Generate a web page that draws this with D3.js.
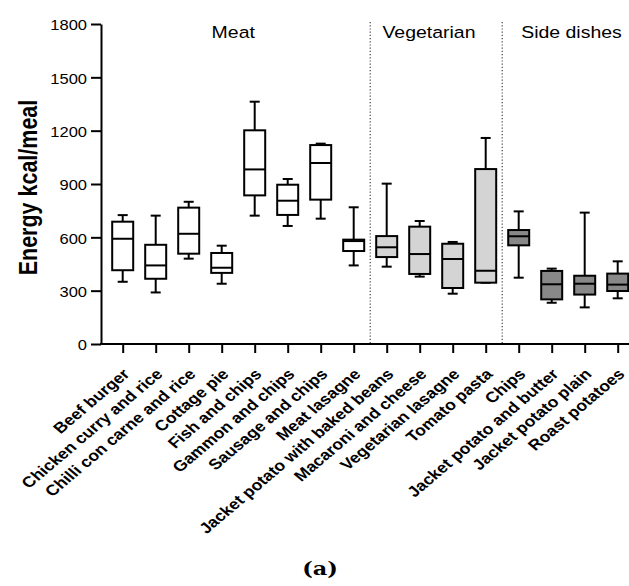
<!DOCTYPE html>
<html>
<head>
<meta charset="utf-8">
<script src="https://cdn.jsdelivr.net/npm/d3@7"></script>
<style>
  body { margin: 0; background: #fff; }
  svg { display: block; }
  text { font-family: "Liberation Sans", Arial, sans-serif; fill: #000; }
</style>
</head>
<body>
<svg id="chart" width="629" height="586"></svg>
<script>
// ---------------- data ----------------
const categories = [
  "Beef burger", "Chicken curry and rice", "Chilli con carne and rice", "Cottage pie",
  "Fish and chips", "Gammon and chips", "Sausage and chips", "Meat lasagne",
  "Jacket potato with baked beans", "Macaroni and cheese", "Vegetarian lasagne", "Tomato pasta",
  "Chips", "Jacket potato and butter", "Jacket potato plain", "Roast potatoes"
];
const groupNames = ["Meat", "Vegetarian", "Side dishes"];
const groupSizes = [8, 4, 4];
const minVals = [350, 290, 480, 339, 722, 664, 705, 442, 435, 379, 283, 345, 373, 232, 206, 257];
const q1Vals  = [415, 367, 508, 400, 836, 726, 812, 523, 489, 394, 315, 345, 555, 251, 278, 298];
const medVals = [592, 442, 620, 429, 982, 806, 1018, 579, 544, 506, 478, 412, 606, 336, 339, 334];
const q3Vals  = [688, 558, 767, 512, 1202, 896, 1119, 587, 607, 660, 564, 984, 641, 411, 384, 396];
const maxVals = [725, 722, 800, 553, 1363, 928, 1127, 769, 902, 692, 574, 1159, 746, 424, 739, 465];
const yTicks = [0, 300, 600, 900, 1200, 1500, 1800];
const yLabel = "Energy kcal/meal";
const panelLabel = "(a)";

// ---------------- styles ----------------
const groupFills = ["#ffffff", "#d4d4d4", "#888888"];
const groupLabelIdx = [3.35, 9.28, 13.6];
const SX = 1.18; // horizontal stretch of text in the reference

// ---------------- layout ----------------
const svg = d3.select("#chart");
const axisLeftX = 101, axisRightX = 629, baseY = 344;
const y = d3.scaleLinear().domain([0, 1800]).range([baseY, 24]);
const x = d3.scalePoint().domain(categories).range([122.7, 617.7]);

const groupOf = [];
groupSizes.forEach((n, g) => { for (let k = 0; k < n; k++) groupOf.push(g); });

// separators
let cum = 0;
groupSizes.slice(0, -1).forEach(n => {
  cum += n;
  const sx = (x(categories[cum - 1]) + x(categories[cum])) / 2;
  svg.append("line")
    .attr("x1", sx).attr("x2", sx).attr("y1", 22).attr("y2", baseY)
    .attr("stroke", "#333").attr("stroke-width", 1.1)
    .attr("stroke-dasharray", "1.2,2");
});

// group labels
groupNames.forEach((name, g) => {
  const gx = x(categories[0]) + groupLabelIdx[g] * x.step();
  svg.append("text")
    .attr("transform", `translate(${gx},38) scale(${SX},1)`)
    .attr("text-anchor", "middle")
    .style("font-size", "16.5px")
    .text(name);
});

// Y axis
const yAxis = svg.append("g")
  .attr("transform", `translate(${axisLeftX},0)`)
  .call(d3.axisLeft(y).tickValues(yTicks).tickFormat(d3.format("d"))
    .tickSize(10).tickSizeOuter(0).tickPadding(4));
yAxis.select(".domain").attr("stroke", "#000").attr("stroke-width", 2);
yAxis.selectAll(".tick line").attr("stroke", "#000").attr("stroke-width", 2);
yAxis.selectAll(".tick text")
  .attr("x", -14 / SX)
  .attr("dy", "0.42em")
  .attr("transform", `scale(${SX},1)`)
  .style("font-size", "14px")
  .style("font-family", "'Liberation Sans', Arial, sans-serif")
  .attr("fill", "#000");

// X axis
const xAxis = svg.append("g")
  .attr("transform", `translate(0,${baseY})`)
  .call(d3.axisBottom(x).tickSize(9).tickSizeOuter(0));
xAxis.select(".domain").remove();
xAxis.selectAll(".tick line").attr("stroke", "#000").attr("stroke-width", 2);
xAxis.selectAll(".tick text").remove();
xAxis.selectAll(".tick").append("text")
  .attr("transform", `translate(7.5,31) scale(${SX},1) rotate(-45)`)
  .attr("text-anchor", "end")
  .style("font-size", "15px")
  .style("font-weight", "bold")
  .style("font-family", "'Liberation Sans', Arial, sans-serif")
  .text(d => d);
xAxis.append("line")
  .attr("x1", axisLeftX - 1).attr("x2", axisRightX)
  .attr("y1", 0).attr("y2", 0)
  .attr("stroke", "#000").attr("stroke-width", 2);

// boxes
const boxW = 21, capW = 10;
const boxes = svg.append("g").selectAll("g").data(categories).join("g")
  .attr("transform", d => `translate(${x(d)},0)`);
const sw = 2;
boxes.append("line")
  .attr("y1", (d, i) => y(maxVals[i])).attr("y2", (d, i) => y(q3Vals[i]))
  .attr("stroke", "#000").attr("stroke-width", sw);
boxes.append("line")
  .attr("y1", (d, i) => y(q1Vals[i])).attr("y2", (d, i) => y(minVals[i]))
  .attr("stroke", "#000").attr("stroke-width", sw);
boxes.append("line")
  .attr("x1", -capW / 2).attr("x2", capW / 2)
  .attr("y1", (d, i) => y(maxVals[i])).attr("y2", (d, i) => y(maxVals[i]))
  .attr("stroke", "#000").attr("stroke-width", sw);
boxes.append("line")
  .attr("x1", -capW / 2).attr("x2", capW / 2)
  .attr("y1", (d, i) => y(minVals[i])).attr("y2", (d, i) => y(minVals[i]))
  .attr("stroke", "#000").attr("stroke-width", sw);
boxes.append("rect")
  .attr("x", -boxW / 2).attr("width", boxW)
  .attr("y", (d, i) => y(q3Vals[i]))
  .attr("height", (d, i) => y(q1Vals[i]) - y(q3Vals[i]))
  .attr("fill", (d, i) => groupFills[groupOf[i]])
  .attr("stroke", "#000").attr("stroke-width", sw);
boxes.append("line")
  .attr("x1", -boxW / 2).attr("x2", boxW / 2)
  .attr("y1", (d, i) => y(medVals[i])).attr("y2", (d, i) => y(medVals[i]))
  .attr("stroke", "#000").attr("stroke-width", sw);

// Y label
svg.append("text")
  .attr("transform", `translate(37,187.5) scale(${SX},1) rotate(-90)`)
  .attr("text-anchor", "middle")
  .style("font-size", "21.5px")
  .style("font-weight", "bold")
  .text(yLabel);

// panel label
svg.append("text")
  .attr("transform", `translate(320,575) scale(${SX},1)`)
  .attr("text-anchor", "middle")
  .style("font-family", "'DejaVu Serif', 'Liberation Serif', serif")
  .style("font-size", "19px")
  .style("font-weight", "bold")
  .text(panelLabel);
</script>
</body>
</html>
